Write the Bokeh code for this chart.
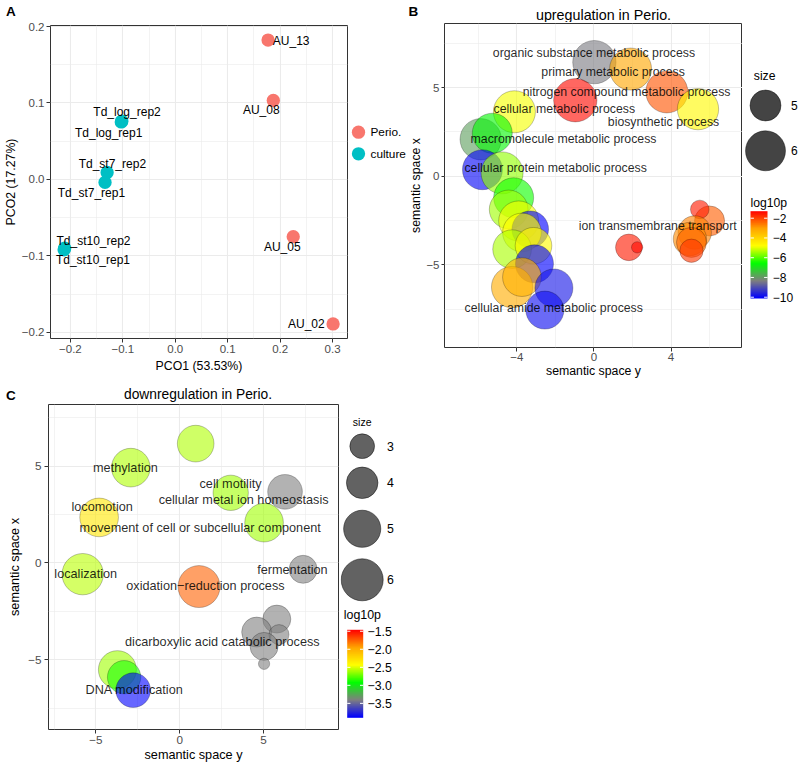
import math
import numpy as np
from bokeh.plotting import figure
from bokeh.layouts import row, column
from bokeh.models import ColumnDataSource, Range1d, FixedTicker, LinearColorMapper
from bokeh.transform import factor_cmap
from bokeh.core.properties import value
from bokeh.embed import file_html
from bokeh.resources import INLINE

FONT = "Liberation Sans"

# ---------------- Panel A data (PCoA) ----------------
a_names = ["AU_13", "AU_08", "AU_05", "AU_02",
           "Td_log_rep2", "Td_log_rep1", "Td_st7_rep2", "Td_st7_rep1",
           "Td_st10_rep2", "Td_st10_rep1"]
a_groups = ["Perio.", "Perio.", "Perio.", "Perio.",
            "culture", "culture", "culture", "culture", "culture", "culture"]
a_pco1 = [0.177, 0.187, 0.225, 0.301, -0.102, -0.103, -0.130, -0.134, -0.211, -0.212]
a_pco2 = [0.182, 0.103, -0.075, -0.189, 0.076, 0.075, 0.009, -0.004, -0.090, -0.092]
a_label_x = [0.221, 0.164, 0.204, 0.250, -0.092, -0.127, -0.120, -0.160, -0.156, -0.157]
a_label_y = [0.181, 0.090, -0.0885, -0.189, 0.088, 0.061, 0.020, -0.018, -0.080, -0.105]
a_group_names = ["Perio.", "culture"]
a_group_colors = ["#F8766D", "#00BFC4"]
a_xticks = [-0.2, -0.1, 0, 0.1, 0.2, 0.3]
a_xtick_labels = ["−0.2", "−0.1", "0.0", "0.1", "0.2", "0.3"]
a_xminor = [-0.15, -0.05, 0.05, 0.15, 0.25]
a_yticks = [-0.2, -0.1, 0, 0.1, 0.2]
a_ytick_labels = ["−0.2", "−0.1", "0.0", "0.1", "0.2"]
a_yminor = [-0.15, -0.05, 0.05, 0.15]

# ---------------- Panel B data (upregulation) ----------------
b_x = [0.02, 1.90, 3.78, 5.40, -0.97, -4.13, -5.88, -5.28, -5.79, -4.77, -4.17, -4.43,
       -3.91, -3.31, -3.74, -4.25, -3.14, -3.09, -4.25, -3.74, -2.08, -2.55,
       1.81, 2.24, 6.00, 5.49, 5.23, 4.98, 5.06, 5.06]
b_y = [6.44, 6.05, 4.76, 3.79, 4.29, 3.64, 2.09, 2.43, 0.37, 0.19, -1.21, -1.87,
       -2.52, -2.99, -3.17, -4.11, -3.92, -4.94, -6.25, -5.69, -6.30, -7.55,
       -4.01, -4.01, -2.52, -1.87, -3.17, -3.54, -3.73, -4.20]
b_size = [6.43, 6.26, 6.26, 6.17, 6.43, 6.26, 6.17, 6.00, 6.00, 6.26, 6.00, 5.84,
          6.00, 5.60, 5.84, 5.84, 5.60, 5.76, 6.17, 5.84, 5.76, 5.76,
          4.61, 3.70, 4.91, 4.04, 5.24, 5.24, 4.91, 4.35]
b_log10p = [-8.4, -3.1, -2.2, -4.7, -1.4, -4.9, -7.9, -6.7, -10.0, -5.6, -6.5, -5.5,
            -4.9, -10.1, -4.8, -5.4, -4.7, -10.1, -3.2, -3.3, -9.8, -9.9,
            -1.6, -1.4, -2.3, -1.6, -2.7, -2.8, -2.4, -1.9]
b_terms = ["organic substance metabolic process", "primary metabolic process",
           "nitrogen compound metabolic process", "cellular metabolic process",
           "biosynthetic process", "macromolecule metabolic process",
           "cellular protein metabolic process", "ion transmembrane transport",
           "cellular amide metabolic process"]
b_term_x = [0.00, 0.99, 1.69, -1.54, 3.61, -1.58, -1.99, 3.31, -2.09]
b_term_y = [6.98, 5.91, 4.76, 3.79, 3.04, 2.11, 0.47, -2.82, -7.42]
b_xticks = [-4, 0, 4]
b_xminor = [-6, -2, 2, 6]
b_yticks = [-5, 0, 5]
b_yminor = [-7.5, -2.5, 2.5, 7.5]
b_size_breaks = [5, 6]
b_cb_ticks = [-2, -4, -6, -8, -10]
b_cb_labels = ["−2", "−4", "−6", "−8", "−10"]
b_p_low, b_p_high = -10.13, -1.29

# ---------------- Panel C data (downregulation) ----------------
c_x = [0.95, -2.92, 3.04, 6.28, -4.81, 5.03, -5.79, 7.36, 1.15, 5.79, 4.59, 5.92,
       5.03, 5.03, -3.72, -3.32, -2.78]
c_y = [6.16, 4.92, 3.62, 3.67, 2.35, 2.08, -0.58, -0.33, -1.22, -2.90, -3.57, -3.70,
       -4.31, -5.21, -5.51, -5.90, -6.57]
c_size = [4.91, 5.30, 4.66, 4.54, 5.30, 5.30, 5.86, 3.46, 6.00, 3.46, 3.76, 2.46,
          3.46, 1.75, 5.17, 4.31, 4.54]
c_log10p = [-2.59, -2.59, -2.62, -3.41, -2.30, -2.62, -2.57, -3.41, -1.75, -3.41, -3.41,
            -3.41, -3.41, -3.41, -2.62, -2.88, -3.90]
c_terms = ["methylation", "cell motility", "cellular metal ion homeostasis", "locomotion",
           "movement of cell or subcellular component", "localization", "fermentation",
           "oxidation−reduction process", "dicarboxylic acid catabolic process",
           "DNA modification"]
c_term_x = [-3.24, 3.03, 3.81, -4.63, 1.22, -5.61, 6.72, 1.53, 2.54, -2.70]
c_term_y = [4.92, 4.08, 3.26, 2.90, 1.78, -0.58, -0.38, -1.20, -4.07, -6.55]
c_xticks = [-5, 0, 5]
c_xminor = [-7.5, -2.5, 2.5, 7.5]
c_yticks = [-5, 0, 5]
c_yminor = [-7.5, -2.5, 2.5, 7.5]
c_size_breaks = [3, 4, 5, 6]
c_cb_ticks = [-1.5, -2.0, -2.5, -3.0, -3.5]
c_cb_labels = ["−1.5", "−2.0", "−2.5", "−3.0", "−3.5"]
c_p_low, c_p_high = -3.90, -1.46

# ---------------- styles ----------------
ANCHORS = ["#0000FF", "#7F7F7F", "#00FF00", "#FFFF00", "#FFA500", "#FF0000"]


def ramp(anchors, n=256):
    rgb = [tuple(int(a[i:i + 2], 16) for i in (1, 3, 5)) for a in anchors]
    out = []
    for k in range(n):
        t = k / (n - 1) * (len(rgb) - 1)
        i = min(int(t), len(rgb) - 2)
        f = t - i
        c = [round(rgb[i][j] * (1 - f) + rgb[i + 1][j] * f) for j in range(3)]
        out.append("#%02x%02x%02x" % tuple(c))
    return out


PALETTE = ramp(ANCHORS)


def b_diam(v):  # size scale of panel B (px diameter)
    return 2 * math.sqrt(160.0 * (v - 3.5))


def c_diam(v):  # size scale of panel C (px diameter)
    return 2 * math.sqrt(96.3 * (v - 1.42))


def style_axes(p, xticks, xminor, yticks, yminor, xlab, ylab, tick_fs, lab_fs,
               xlabels=None, ylabels=None, x_std=3, y_std=0, xl_std=2, yl_std=2,
               y_tick_out=4):
    p.xaxis.ticker = FixedTicker(ticks=xticks, minor_ticks=xminor)
    p.yaxis.ticker = FixedTicker(ticks=yticks, minor_ticks=yminor)
    if xlabels is None:
        xlabels = [str(t).replace("-", "−") for t in xticks]
    if ylabels is None:
        ylabels = [str(t).replace("-", "−") for t in yticks]
    p.xaxis.major_label_overrides = dict(zip(xticks, xlabels))
    p.yaxis.major_label_overrides = dict(zip(yticks, ylabels))
    p.xaxis.axis_label = xlab
    p.yaxis.axis_label = ylab
    for ax in (p.xaxis, p.yaxis):
        ax.axis_line_color = None
        ax.major_tick_line_color = "#333333"
        ax.major_tick_in = 0
        ax.major_tick_out = 4
        ax.minor_tick_line_color = None
        ax.major_label_text_font = FONT
        ax.major_label_text_font_size = tick_fs
        ax.major_label_text_color = "#4d4d4d"
        ax.axis_label_text_font = FONT
        ax.axis_label_text_font_size = lab_fs
        ax.axis_label_text_font_style = "normal"
        ax.axis_label_text_color = "black"
    p.yaxis.major_tick_out = y_tick_out
    p.xaxis.axis_label_standoff = x_std
    p.yaxis.axis_label_standoff = y_std
    p.xaxis.major_label_standoff = xl_std
    p.yaxis.major_label_standoff = yl_std
    p.grid.grid_line_color = "#ebebeb"
    p.grid.grid_line_width = 1.1
    p.grid.minor_grid_line_color = "#ebebeb"
    p.grid.minor_grid_line_width = 0.6
    p.outline_line_color = "#333333"
    p.outline_line_width = 1
    p.background_fill_color = "white"
    p.border_fill_color = "white"


def main_fig(w, h, xr, yr, left, right, top, bottom):
    return figure(width=w, height=h, x_range=Range1d(*xr), y_range=Range1d(*yr),
                  output_backend="svg", toolbar_location=None, frame_align=False,
                  min_border_left=left, min_border_right=right,
                  min_border_top=top, min_border_bottom=bottom)


def blank_fig(w, h):
    # pixel-coordinate canvas (x to the right, y upwards) for legends and headings
    p = figure(width=w, height=h, x_range=Range1d(0, w), y_range=Range1d(0, h),
               output_backend="svg", toolbar_location=None, min_border=0,
               frame_align=False, x_axis_location=None, y_axis_location=None)
    p.grid.visible = False
    p.outline_line_color = None
    p.background_fill_color = "white"
    p.border_fill_color = "white"
    return p


def put_text(p, xs, ys_top, texts, size, align="left", bold=False, color="black"):
    h = p.height
    src = ColumnDataSource(dict(x=list(xs), y=[h - y for y in ys_top], t=list(texts)))
    p.text("x", "y", text="t", source=src, text_font=value(FONT),
           text_font_size=value(size), text_align=align, text_baseline="middle",
           text_color=color, text_font_style="bold" if bold else "normal")


def size_legend(p, cx, ys_top, diams, labels, lx, fill, line_alpha, fs):
    h = p.height
    src = ColumnDataSource(dict(x=[cx] * len(diams), y=[h - y for y in ys_top], d=diams))
    p.scatter("x", "y", source=src, size="d", fill_color=fill, fill_alpha=0.95,
              line_color="black", line_alpha=line_alpha, line_width=0.8)
    put_text(p, [lx] * len(labels), ys_top, labels, fs)


def color_legend(p, mapper, low, high, x0, top, w, hbar, ticks, labels, lx, fs):
    h = p.height
    bottom = h - (top + hbar)
    grad = np.linspace(low, high, 220).reshape(-1, 1)
    p.image(image=[grad], x=x0, y=bottom, dw=w, dh=hbar, color_mapper=mapper)
    ty = [bottom + (t - low) / (high - low) * hbar for t in ticks]
    tick_len = w / 5.0
    p.segment(x0=[x0] * len(ty), x1=[x0 + tick_len] * len(ty), y0=ty, y1=ty,
              line_color="white", line_width=1)
    p.segment(x0=[x0 + w - tick_len] * len(ty), x1=[x0 + w] * len(ty), y0=ty, y1=ty,
              line_color="white", line_width=1)
    put_text(p, [lx] * len(ty), [h - y for y in ty], labels, fs)


STRIP1_H = 22
TOP_H = 358
STRIP2_H = 22
BOT_H = 362

# ---------------- headings ----------------
head1 = blank_fig(798, STRIP1_H)
put_text(head1, [5.5], [10.5], ["A"], "13.5px", bold=True)
put_text(head1, [408], [10.5], ["B"], "13.5px", bold=True)
put_text(head1, [603], [14], ["upregulation in Perio."], "14.3px", align="center")

head2 = blank_fig(798, STRIP2_H)
put_text(head2, [5.5], [15], ["C"], "13.5px", bold=True)
put_text(head2, [197.5], [14], ["downregulation in Perio."], "13.8px", align="center")

# ---------------- Panel A ----------------
a_xr = (-0.238, 0.3285)
a_yr = (-0.208, 0.201)
pa = main_fig(350, TOP_H, a_xr, a_yr, 49, 3, 3, 42)
style_axes(pa, a_xticks, a_xminor, a_yticks, a_yminor, "PCO1 (53.53%)", "PCO2 (17.27%)",
           "11.5px", "12.3px", a_xtick_labels, a_ytick_labels, x_std=3, y_std=1)
src_a = ColumnDataSource(dict(x=a_pco1, y=a_pco2, group=a_groups, name=a_names,
                              lx=a_label_x, ly=a_label_y))
pa.scatter("x", "y", source=src_a, size=13.3, line_color=None,
           fill_color=factor_cmap("group", a_group_colors, a_group_names))
pa.text("lx", "ly", text="name", source=src_a, text_font=value(FONT),
        text_font_size=value("12px"), text_align="center", text_baseline="middle",
        text_color="black")

leg_a = blank_fig(56, TOP_H)
src_la = ColumnDataSource(dict(x=[8, 8], y=[TOP_H - 109.7, TOP_H - 131.3],
                               group=a_group_names))
leg_a.scatter("x", "y", source=src_la, size=13.3, line_color=None,
              fill_color=factor_cmap("group", a_group_colors, a_group_names))
put_text(leg_a, [20, 20], [109.7, 131.3], a_group_names, "11.8px")

# ---------------- Panel B ----------------
b_xr = (-7.76, 7.71)
b_yr = (-9.66, 8.62)
pb = main_fig(336, TOP_H, b_xr, b_yr, 34, 0, 1, 31)
style_axes(pb, b_xticks, b_xminor, b_yticks, b_yminor, "semantic space y", "semantic space x",
           "11.5px", "12.3px", x_std=0, y_std=0, xl_std=1, yl_std=1, y_tick_out=3)
mapper_b = LinearColorMapper(palette=PALETTE, low=b_p_low, high=b_p_high)
src_b = ColumnDataSource(dict(x=b_x, y=b_y, size=b_size, log10p=b_log10p,
                              d=[b_diam(v) for v in b_size]))
pb.scatter("x", "y", source=src_b, size="d",
           fill_color={"field": "log10p", "transform": mapper_b}, fill_alpha=0.62,
           line_color="black", line_alpha=0.3, line_width=0.8)
src_bt = ColumnDataSource(dict(x=b_term_x, y=b_term_y, t=b_terms))
pb.text("x", "y", text="t", source=src_bt, text_font=value(FONT),
        text_font_size=value("12.3px"), text_align="center", text_baseline="middle",
        text_color="black", text_alpha=0.85)

leg_b = blank_fig(56, TOP_H)
put_text(leg_b, [11.3], [53], ["size"], "12.2px")
size_legend(leg_b, 23, [83, 128.3], [b_diam(v) for v in b_size_breaks],
            [str(v) for v in b_size_breaks], 48.5, "#3a3a3a", 0.5, "12px")
put_text(leg_b, [8], [180], ["log10p"], "12.2px")
color_legend(leg_b, mapper_b, b_p_low, b_p_high, 8, 188.7, 17, 87.3,
             b_cb_ticks, b_cb_labels, 30.3, "12px")

# ---------------- Panel C ----------------
c_xr = (-7.83, 9.47)
c_yr = (-8.6, 8.18)
pc = main_fig(340, BOT_H, c_xr, c_yr, 48, 2, 2, 34)
style_axes(pc, c_xticks, c_xminor, c_yticks, c_yminor, "semantic space y", "semantic space x",
           "11.7px", "12.7px", x_std=1, y_std=3, xl_std=2, yl_std=3)
mapper_c = LinearColorMapper(palette=PALETTE, low=c_p_low, high=c_p_high)
src_c = ColumnDataSource(dict(x=c_x, y=c_y, size=c_size, log10p=c_log10p,
                              d=[c_diam(v) for v in c_size]))
pc.scatter("x", "y", source=src_c, size="d",
           fill_color={"field": "log10p", "transform": mapper_c}, fill_alpha=0.6,
           line_color="black", line_alpha=0.3, line_width=0.8)
src_ct = ColumnDataSource(dict(x=c_term_x, y=c_term_y, t=c_terms))
pc.text("x", "y", text="t", source=src_ct, text_font=value(FONT),
        text_font_size=value("12.7px"), text_align="center", text_baseline="middle",
        text_color="black", text_alpha=0.85)

leg_c = blank_fig(80, BOT_H)
put_text(leg_c, [21.7], [19], ["size"], "10.5px", align="center")
size_legend(leg_c, 21.7, [43.7, 80.3, 126.3, 177.3], [c_diam(v) for v in c_size_breaks],
            [str(v) for v in c_size_breaks], 46.5, "#5a5a5a", 0.6, "12.3px")
put_text(leg_c, [3.3], [212.3], ["log10p"], "12.4px")
color_legend(leg_c, mapper_c, c_p_low, c_p_high, 6.7, 227.3, 16, 88,
             c_cb_ticks, c_cb_labels, 27, "12.3px")

layout = column(head1, row(pa, leg_a, pb, leg_b), head2, row(pc, leg_c))
open("out.html", "w").write(file_html(layout, INLINE, "Perio figure"))
